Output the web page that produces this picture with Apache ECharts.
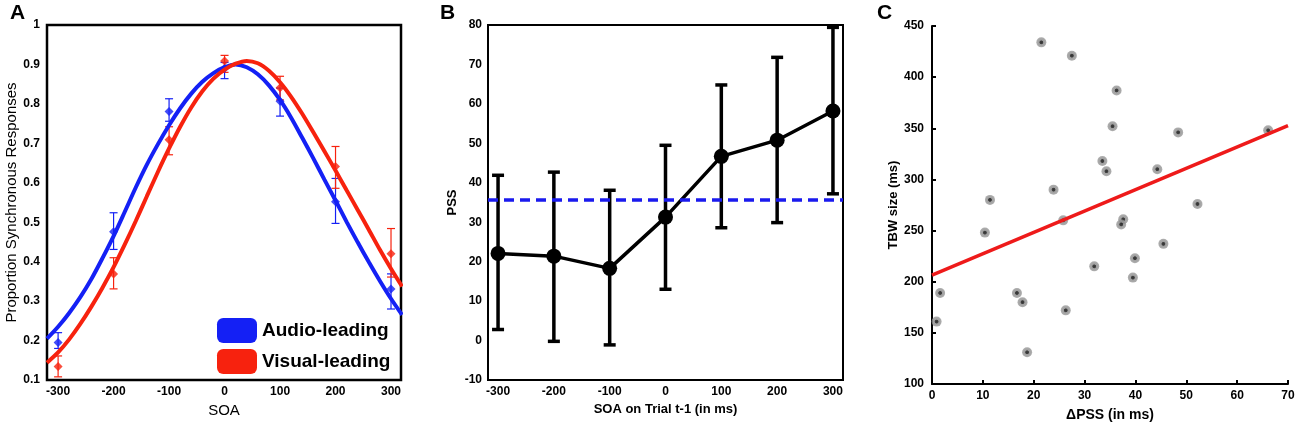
<!DOCTYPE html>
<html>
<head>
<meta charset="utf-8">
<script src="https://cdn.jsdelivr.net/npm/echarts@6/dist/echarts.min.js"></script>
<style>
  html, body { margin: 0; padding: 0; background: #fff; }
  #main { width: 1300px; height: 428px; }
</style>
</head>
<body>
<div id="main"></div>
<script>
// panel A: proportion synchronous responses
var soa = [-300, -200, -100, 0, 100, 200, 300];
var audioMean = [0.195, 0.476, 0.781, 0.89, 0.807, 0.552, 0.331];
var audioLow = [0.18, 0.431, 0.756, 0.864, 0.769, 0.497, 0.28];
var audioHigh = [0.22, 0.524, 0.813, 0.905, 0.84, 0.611, 0.369];
var visualMean = [0.134, 0.369, 0.709, 0.909, 0.841, 0.641, 0.42];
var visualLow = [0.108, 0.331, 0.671, 0.88, 0.81, 0.586, 0.361];
var visualHigh = [0.161, 0.41, 0.742, 0.923, 0.87, 0.692, 0.484];
// fitted curves, every 20 ms
var fitX = [-320, -300, -280, -260, -240, -220, -200, -180, -160, -140, -120, -100, -80, -60, -40, -20, 0,
            20, 40, 60, 80, 100, 120, 140, 160, 180, 200, 220, 240, 260, 280, 300, 320];
var audioFit = [0.205, 0.235, 0.27, 0.31, 0.356, 0.409, 0.465, 0.526, 0.588, 0.646, 0.698, 0.746, 0.789, 0.826, 0.856, 0.878, 0.893,
                0.9, 0.893, 0.875, 0.847, 0.81, 0.765, 0.714, 0.662, 0.608, 0.555, 0.501, 0.449, 0.399, 0.351, 0.306, 0.265];
var visualFit = [0.144, 0.17, 0.203, 0.242, 0.286, 0.334, 0.386, 0.443, 0.503, 0.566, 0.628, 0.687, 0.742, 0.791, 0.832, 0.864, 0.887,
                 0.902, 0.909, 0.903, 0.884, 0.855, 0.818, 0.775, 0.728, 0.68, 0.631, 0.581, 0.531, 0.481, 0.43, 0.382, 0.337];

// panel B: PSS by previous trial SOA
var pssMean = [22.1, 21.4, 18.3, 31.3, 46.7, 50.8, 58.2];
var pssLow = [2.8, -0.2, -1.1, 13, 28.6, 29.9, 37.2];
var pssHigh = [41.9, 42.7, 38.1, 49.5, 64.8, 71.8, 79.4];
var pssOverall = 35.7;

// panel C: dPSS vs TBW size
var dPss = [21.5, 27.5, 36.3, 35.5, 48.4, 66.1, 33.5, 34.3, 44.3, 23.9, 11.4, 52.2, 25.8, 37.6, 37.2, 10.4, 45.5, 39.9, 31.9, 39.5, 1.6, 16.7, 17.8, 26.3, 0.9, 18.7];
var tbw = [434, 421, 387, 352, 346, 348, 318, 308, 310, 290, 280, 276, 260, 261, 256, 248, 237, 223, 215, 204, 189, 189, 180, 172, 161, 131];
var regX = [0, 70];
var regY = [206.5, 352.6];

var tickValues = [-300, -200, -100, 0, 100, 200, 300];
var font = 'Liberation Sans, Arial, sans-serif';
var blue = '#1420f5';
var red = '#f7220e';

var myChart = echarts.init(document.getElementById('main'));

function zip(a, b) {
    return a.map(function (v, i) { return [v, b[i]]; });
}
function zip3(a, b, c) {
    return a.map(function (v, i) { return [v, b[i], c[i]]; });
}

// error bars with caps
function errorBars(color, lw, cap) {
    return function (params, api) {
        var x = api.value(0);
        var lo = api.coord([x, api.value(1)]);
        var hi = api.coord([x, api.value(2)]);
        var st = {stroke: color, lineWidth: lw};
        return {
            type: 'group',
            children: [
                {type: 'line', shape: {x1: lo[0], y1: lo[1], x2: hi[0], y2: hi[1]}, style: st},
                {type: 'line', shape: {x1: lo[0] - cap, y1: lo[1], x2: lo[0] + cap, y2: lo[1]}, style: st},
                {type: 'line', shape: {x1: hi[0] - cap, y1: hi[1], x2: hi[0] + cap, y2: hi[1]}, style: st}
            ]
        };
    };
}

var tickLabel = {color: '#000', fontFamily: font, fontWeight: 'bold', fontSize: 12};

var option = {
    animation: false,
    backgroundColor: '#fff',
    textStyle: {fontFamily: font},
    graphic: [
        {type: 'text', left: 10, top: 3, style: {text: 'A', font: 'bold 21px ' + font, fill: '#000'}},
        {type: 'text', left: 440, top: 3, style: {text: 'B', font: 'bold 21px ' + font, fill: '#000'}},
        {type: 'text', left: 877, top: 3, style: {text: 'C', font: 'bold 21px ' + font, fill: '#000'}}
    ],
    legend: {
        data: ['Audio-leading', 'Visual-leading'],
        orient: 'vertical',
        left: 217,
        top: 318,
        padding: 0,
        icon: 'roundRect',
        itemWidth: 40,
        itemHeight: 25,
        itemGap: 6,
        textStyle: {fontSize: 19, fontWeight: 'bold', color: '#000', fontFamily: font}
    },
    grid: [
        {left: 47, top: 25, width: 354, height: 355, show: true, borderColor: '#000', borderWidth: 2.5, backgroundColor: 'transparent'},
        {left: 488, top: 25, width: 355, height: 355, show: true, borderColor: '#000', borderWidth: 2, backgroundColor: 'transparent'},
        {left: 932, top: 26, width: 356, height: 358}
    ],
    xAxis: [
        {
            gridIndex: 0, type: 'value', min: -320, max: 318,
            axisLine: {show: false}, axisTick: {show: false}, splitLine: {show: false},
            axisLabel: Object.assign({customValues: tickValues, margin: 6}, tickLabel),
            name: 'SOA', nameLocation: 'middle', nameGap: 22,
            nameTextStyle: {fontSize: 15, color: '#000', fontFamily: font}
        },
        {
            gridIndex: 1, type: 'value', min: -318, max: 318,
            axisLine: {show: false}, axisTick: {show: false}, splitLine: {show: false},
            axisLabel: Object.assign({customValues: tickValues, margin: 6}, tickLabel),
            name: 'SOA on Trial t-1 (in ms)', nameLocation: 'middle', nameGap: 21,
            nameTextStyle: {fontSize: 13, fontWeight: 'bold', color: '#000', fontFamily: font}
        },
        {
            gridIndex: 2, type: 'value', min: 0, max: 70, interval: 10,
            axisLine: {lineStyle: {color: '#000', width: 2}},
            axisTick: {inside: true, length: 4, lineStyle: {color: '#000', width: 2}},
            splitLine: {show: false},
            axisLabel: Object.assign({margin: 6}, tickLabel),
            name: '\u0394PSS (in ms)', nameLocation: 'middle', nameGap: 24,
            nameTextStyle: {fontSize: 14, fontWeight: 'bold', color: '#000', fontFamily: font}
        }
    ],
    yAxis: [
        {
            gridIndex: 0, type: 'value', min: 0.1, max: 1, interval: 0.1,
            axisLine: {show: false}, axisTick: {show: false}, splitLine: {show: false},
            axisLabel: Object.assign({margin: 7}, tickLabel),
            name: 'Proportion Synchronous Responses', nameLocation: 'middle', nameGap: 28,
            nameTextStyle: {fontSize: 15, color: '#000', fontFamily: font}
        },
        {
            gridIndex: 1, type: 'value', min: -10, max: 80, interval: 10,
            axisLine: {show: false}, axisTick: {show: false}, splitLine: {show: false},
            axisLabel: Object.assign({margin: 6}, tickLabel),
            name: 'PSS', nameLocation: 'middle', nameGap: 29,
            nameTextStyle: {fontSize: 13, fontWeight: 'bold', color: '#000', fontFamily: font}
        },
        {
            gridIndex: 2, type: 'value', min: 100, max: 450, interval: 50,
            axisLine: {lineStyle: {color: '#000', width: 2}},
            axisTick: {inside: true, length: 4, lineStyle: {color: '#000', width: 2}},
            splitLine: {show: false},
            axisLabel: Object.assign({margin: 8}, tickLabel),
            name: 'TBW size (ms)', nameLocation: 'middle', nameGap: 32,
            nameTextStyle: {fontSize: 13, fontWeight: 'bold', color: '#000', fontFamily: font}
        }
    ],
    series: [
        // A: fitted curves
        {
            name: 'Audio-leading', type: 'line', xAxisIndex: 0, yAxisIndex: 0,
            data: zip(fitX, audioFit), smooth: 0.3, showSymbol: false, clip: true,
            itemStyle: {color: blue}, lineStyle: {color: blue, width: 4}
        },
        {
            name: 'Visual-leading', type: 'line', xAxisIndex: 0, yAxisIndex: 0,
            data: zip(fitX, visualFit), smooth: 0.3, showSymbol: false, clip: true,
            itemStyle: {color: red}, lineStyle: {color: red, width: 4}
        },
        // A: error bars and means
        {
            type: 'custom', xAxisIndex: 0, yAxisIndex: 0,
            renderItem: errorBars(blue, 1.2, 4), data: zip3(soa, audioLow, audioHigh)
        },
        {
            type: 'custom', xAxisIndex: 0, yAxisIndex: 0,
            renderItem: errorBars(red, 1.2, 4), data: zip3(soa, visualLow, visualHigh)
        },
        {
            type: 'scatter', xAxisIndex: 0, yAxisIndex: 0, symbol: 'diamond', symbolSize: 9,
            itemStyle: {color: blue}, data: zip(soa, audioMean)
        },
        {
            type: 'scatter', xAxisIndex: 0, yAxisIndex: 0, symbol: 'diamond', symbolSize: 9,
            itemStyle: {color: red}, data: zip(soa, visualMean)
        },
        // B
        {
            type: 'custom', xAxisIndex: 1, yAxisIndex: 1,
            renderItem: errorBars('#000', 3.5, 6), data: zip3(soa, pssLow, pssHigh)
        },
        {
            type: 'line', xAxisIndex: 1, yAxisIndex: 1, data: zip(soa, pssMean),
            symbol: 'circle', symbolSize: 15,
            itemStyle: {color: '#000'}, lineStyle: {color: '#000', width: 3.5},
            markLine: {
                silent: true, symbol: 'none', label: {show: false},
                lineStyle: {color: '#1a1aee', width: 3.5, type: [10, 6]},
                data: [{yAxis: pssOverall}]
            }
        },
        // C
        {
            type: 'line', xAxisIndex: 2, yAxisIndex: 2, data: zip(regX, regY),
            showSymbol: false, lineStyle: {color: '#ee1a1a', width: 3.5}
        },
        {
            type: 'scatter', xAxisIndex: 2, yAxisIndex: 2, data: zip(dPss, tbw),
            symbol: 'circle', symbolSize: 10,
            itemStyle: {
                color: {
                    type: 'radial', x: 0.5, y: 0.5, r: 0.5,
                    colorStops: [
                        {offset: 0, color: '#000'},
                        {offset: 0.3, color: '#111'},
                        {offset: 0.45, color: '#888'},
                        {offset: 1, color: '#9a9a9a'}
                    ]
                }
            }
        }
    ]
};

myChart.setOption(option);
</script>
</body>
</html>
